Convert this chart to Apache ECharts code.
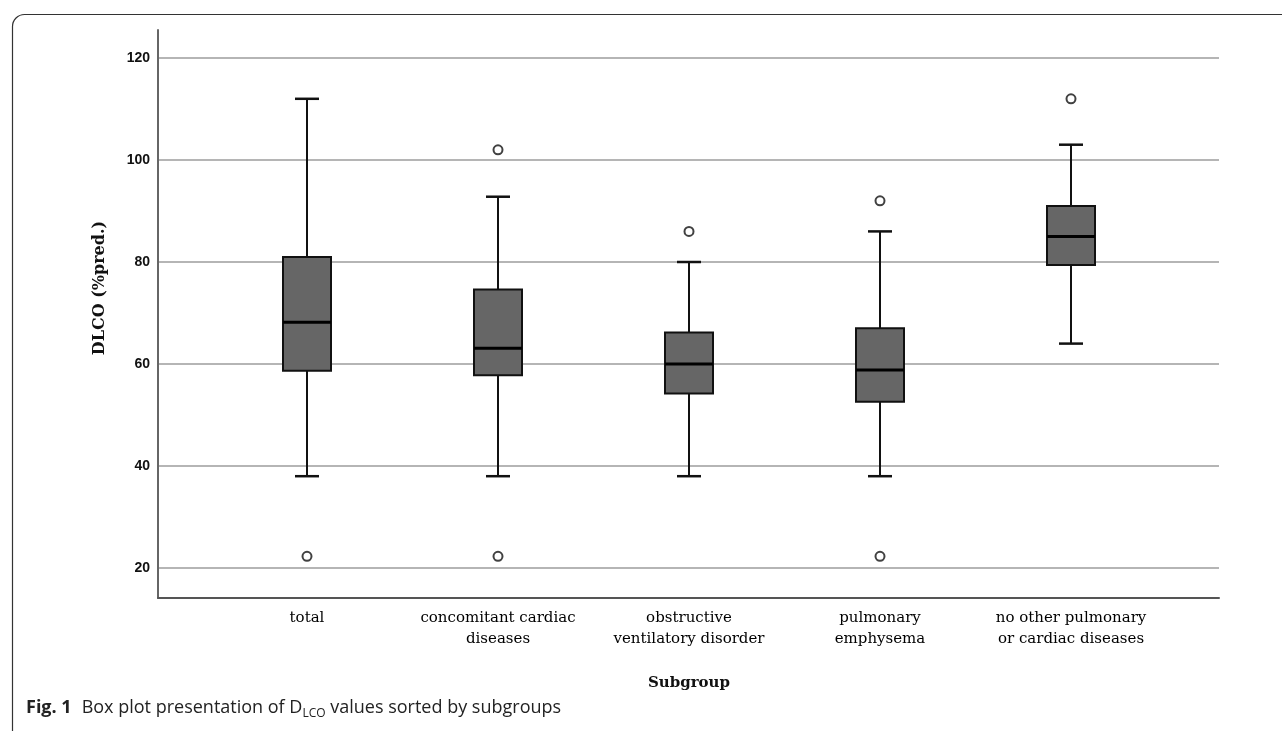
<!DOCTYPE html>
<html>
<head>
<meta charset="utf-8">
<script src="https://cdn.jsdelivr.net/npm/echarts@6/dist/echarts.min.js"></script>
<style>html,body{margin:0;padding:0;background:#fff}#c{width:1282px;height:731px}</style>
</head>
<body>
<div id="c"></div>
<script>
// ---- data ----
const categories = ['total', 'concomitant cardiac\ndiseases', 'obstructive\nventilatory disorder', 'pulmonary\nemphysema', 'no other pulmonary\nor cardiac diseases'];
const whiskerLow = [38, 38, 38, 38, 64];
const q1 = [58.7, 57.8, 54.2, 52.6, 79.4];
const median = [68.2, 63.1, 60, 58.8, 85];
const q3 = [81, 74.6, 66.2, 67, 91];
const whiskerHigh = [112, 92.8, 80, 86, 103];
const outliers = [[0, 22.3], [1, 102], [1, 22.3], [2, 86], [3, 92], [3, 22.3], [4, 112]];
const yTicks = [20, 40, 60, 80, 100, 120];

const boxData = categories.map((c, i) => [i, whiskerLow[i], q1[i], median[i], q3[i], whiskerHigh[i]]);
const outlierData = outliers.map(o => [categories[o[0]], o[1]]);

const chart = echarts.init(document.getElementById('c'));
const gridLeft = 158, gridRight = 1282 - 1219;
const plotTop = 58, plotBottom = 731 - 568;
chart.setOption({
  animation: false,
  backgroundColor: '#ffffff',
  grid: [
    {left: gridLeft, right: gridRight, top: plotTop, bottom: plotBottom},
    {left: gridLeft, right: gridRight, top: 30, bottom: 731 - 598},
    {left: 211.5, right: 1282 - 1166.5, top: plotTop, bottom: plotBottom}
  ],
  xAxis: [
    {gridIndex: 0, type: 'value', show: false, min: 0, max: 1},
    {gridIndex: 1, type: 'value', min: 0, max: 1,
      axisLine: {show: true, onZero: false, lineStyle: {color: '#555', width: 2}},
      axisTick: {show: false}, axisLabel: {show: false}, splitLine: {show: false}},
    {gridIndex: 2, type: 'category', data: categories,
      axisLine: {show: false}, axisTick: {show: false}, splitLine: {show: false},
      axisLabel: {margin: 40, color: '#000', fontFamily: 'DejaVu Serif', fontSize: 15, lineHeight: 21, interval: 0}}
  ],
  yAxis: [
    {gridIndex: 0, type: 'value', min: yTicks[0], max: yTicks[yTicks.length - 1], interval: 20,
      axisLine: {show: false}, axisTick: {show: false},
      axisLabel: {margin: 8, color: '#111', fontFamily: 'Liberation Sans', fontWeight: 'bold', fontSize: 14},
      splitLine: {show: true, lineStyle: {color: '#b5b5b5', width: 2}}},
    {gridIndex: 1, type: 'value', min: 0, max: 1,
      axisLine: {show: true, onZero: false, lineStyle: {color: '#666', width: 2}},
      axisTick: {show: false}, axisLabel: {show: false}, splitLine: {show: false}},
    {gridIndex: 2, type: 'value', min: yTicks[0], max: yTicks[yTicks.length - 1], show: false}
  ],
  series: [
    {
      type: 'custom', xAxisIndex: 2, yAxisIndex: 2, data: boxData, z: 5,
      renderItem: function (params, api) {
        const x = api.value(0);
        const pLow = api.coord([x, api.value(1)]);
        const pQ1 = api.coord([x, api.value(2)]);
        const pMed = api.coord([x, api.value(3)]);
        const pQ3 = api.coord([x, api.value(4)]);
        const pHigh = api.coord([x, api.value(5)]);
        const cx = pMed[0], hw = 24, cw = 12;
        const ls = {stroke: '#111', lineWidth: 2};
        return {type: 'group', children: [
          {type: 'line', shape: {x1: cx, y1: pHigh[1], x2: cx, y2: pQ3[1]}, style: ls},
          {type: 'line', shape: {x1: cx, y1: pQ1[1], x2: cx, y2: pLow[1]}, style: ls},
          {type: 'line', shape: {x1: cx - cw, y1: pHigh[1], x2: cx + cw, y2: pHigh[1]}, style: {stroke: '#111', lineWidth: 2.5}},
          {type: 'line', shape: {x1: cx - cw, y1: pLow[1], x2: cx + cw, y2: pLow[1]}, style: {stroke: '#111', lineWidth: 2.5}},
          {type: 'rect', shape: {x: cx - hw, y: pQ3[1], width: 2 * hw, height: pQ1[1] - pQ3[1]}, style: {fill: '#666666', stroke: '#111', lineWidth: 2}},
          {type: 'line', shape: {x1: cx - hw, y1: pMed[1], x2: cx + hw, y2: pMed[1]}, style: {stroke: '#000', lineWidth: 3}}
        ]};
      }
    },
    {
      type: 'scatter', xAxisIndex: 2, yAxisIndex: 2, data: outlierData, z: 6,
      symbol: 'circle', symbolSize: 9,
      itemStyle: {color: '#fff', borderColor: '#111', borderWidth: 2}
    }
  ],
  graphic: [
    {type: 'rect', left: 10, top: 12, shape: {width: 1400, height: 900, r: 12}, style: {fill: 'none', stroke: '#333', lineWidth: 1.2}, silent: true},
    {type: 'text', x: 100, y: 288, rotation: Math.PI / 2,
      style: {text: 'DLCO (%pred.)', fontFamily: 'DejaVu Serif', fontWeight: 'bold', fontSize: 16, fill: '#111', align: 'center', verticalAlign: 'middle'}},
    {type: 'text', x: 689, y: 683,
      style: {text: 'Subgroup', fontFamily: 'DejaVu Serif', fontWeight: 'bold', fontSize: 15, fill: '#111', align: 'center', verticalAlign: 'middle'}},
    {type: 'text', x: 26, y: 708,
      style: {
        text: '{b|Fig. 1}   {n|Box plot presentation of D}{s|LCO}{n| values sorted by subgroups}',
        verticalAlign: 'middle', align: 'left',
        rich: {
          b: {fontFamily: 'Open Sans', fontWeight: 'bold', fontSize: 18, fill: '#222', lineHeight: 24},
          n: {fontFamily: 'Open Sans', fontSize: 18, fill: '#222', lineHeight: 24},
          s: {fontFamily: 'Open Sans', fontSize: 12, fill: '#222', lineHeight: 24, verticalAlign: 'bottom'}
        }
      }}
  ]
});
</script>
</body>
</html>
